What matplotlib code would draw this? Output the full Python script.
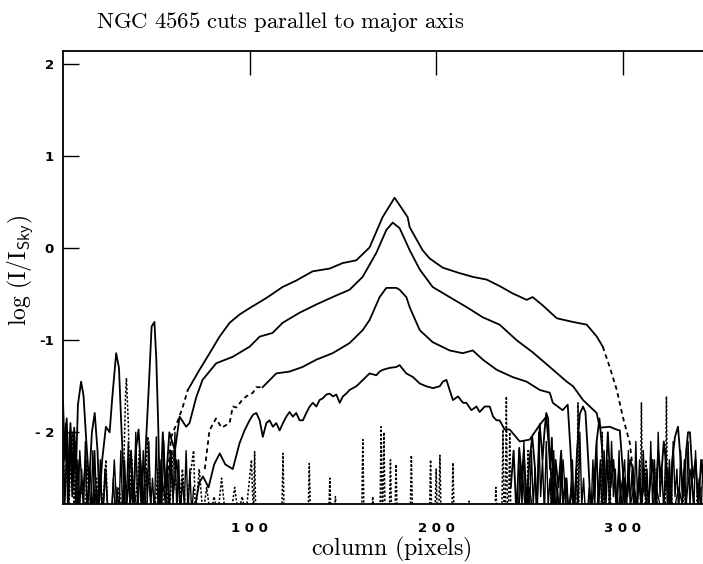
import matplotlib
matplotlib.use("Agg")
import matplotlib.pyplot as plt

plt.rcParams['mathtext.fontset'] = 'cm'

# ---- main profiles (column, log I/Isky) ----
a_dash_l_x = [56, 58, 60, 62, 64.1, 66.9]
a_dash_l_y = [-2.5, -2.05, -1.95, -1.85, -1.73, -1.54]
a_x = [66.9, 73.2, 78.6, 83.9, 89.3, 94.6, 100, 109, 117.7, 125, 133.8, 142.9, 149.9, 157.2,
       164.3, 171.3, 177.7, 180.4, 184.7, 185.8, 192.7, 196.5, 203.5, 212.6, 219.6, 227.1,
       234, 241, 248.5, 251.7, 257.1, 264.6, 273.2, 280.7, 286.1, 289.3]
a_y = [-1.54, -1.32, -1.14, -0.96, -0.81, -0.72, -0.65, -0.54, -0.42, -0.35, -0.25, -0.22,
       -0.16, -0.13, 0.01, 0.34, 0.55, 0.47, 0.34, 0.23, -0.02, -0.11, -0.21, -0.27, -0.31,
       -0.34, -0.41, -0.49, -0.56, -0.53, -0.62, -0.76, -0.80, -0.83, -0.96, -1.07]
a_dash_r_x = [289.3, 293, 296.8, 300, 303.8, 305.4, 307]
a_dash_r_y = [-1.07, -1.29, -1.54, -1.83, -2.12, -2.41, -2.9]

b_x = [55, 57, 60, 62.5, 66, 67.8, 71.4, 74.8, 82.1, 90.9, 100, 105.4, 112.3, 117.7, 126.8,
       135.8, 144.5, 153.6, 160.6, 167.9, 173.3, 176.7, 180.4, 185.8, 191.2, 198.1, 207.2,
       216.4, 225, 234, 243.2, 251.7, 260.9, 270, 273.4, 278.7, 286, 287.7, 293, 296.6,
       298.4, 300, 301.5]
b_y = [-2.6, -2.0, -2.2, -1.83, -1.94, -1.90, -1.62, -1.43, -1.25, -1.18, -1.07, -0.96, -0.92,
       -0.81, -0.70, -0.61, -0.53, -0.45, -0.31, -0.05, 0.20, 0.28, 0.22, -0.02, -0.23, -0.42,
       -0.53, -0.64, -0.75, -0.83, -1.00, -1.13, -1.29, -1.45, -1.50, -1.65, -1.79, -1.95,
       -1.94, -1.97, -1.98, -2.4, -2.9]

c_dash_x = [76, 78.5, 82, 85, 89.3, 91, 93, 96, 98.2, 101.8, 103.6, 107]
c_dash_y = [-2.4, -1.98, -1.85, -1.95, -1.90, -1.72, -1.73, -1.65, -1.61, -1.57, -1.51, -1.51]
c_x = [107, 114.3, 121.4, 128.4, 135.8, 144.5, 153.6, 160.6, 164.3, 169.7, 173.3, 178.7, 180.4,
       184, 185.8, 191.2, 198.1, 207.2, 214.2, 219.6, 225, 232.4, 241, 248.5, 255.5, 260.9,
       262.5, 267.8, 270.5, 272, 273.5]
c_y = [-1.51, -1.36, -1.34, -1.29, -1.21, -1.14, -1.03, -0.89, -0.78, -0.53, -0.43, -0.43,
       -0.45, -0.53, -0.64, -0.89, -1.02, -1.11, -1.14, -1.11, -1.21, -1.32, -1.40, -1.45,
       -1.54, -1.57, -1.68, -1.76, -1.70, -2.2, -2.9]

d_x = [70, 73, 75, 78, 81, 84, 87, 91, 94.6, 97.3, 100, 101.8, 103.6, 105.4, 107.1, 109, 110.7,
       112.5, 114.3, 116.1, 117.9, 119.7, 121.4, 123.2, 125, 126.8, 128.6, 130.4, 132.2, 133.9,
       135.8, 137.5, 139.3, 141.1, 142.9, 144.7, 146.5, 148.3, 150, 151.8, 153.6, 157.2, 160.8,
       164.3, 167.9, 169.7, 171.5, 175.1, 178.7, 180.4, 184, 187.6, 191.2, 194.7, 198.3, 201.9,
       203.6, 205.5, 207.2, 209, 211.7, 214.4, 216.2, 218.9, 221.6, 223.3, 226, 228.7, 230.5,
       232.3, 234, 236.7, 239.4, 244.8, 250.1, 255.5, 259, 261, 263]
d_y = [-2.9, -2.55, -2.48, -2.6, -2.35, -2.23, -2.35, -2.4, -2.12, -1.98, -1.87, -1.81, -1.79,
       -1.87, -2.05, -1.90, -1.87, -1.94, -1.90, -1.98, -1.90, -1.83, -1.78, -1.83, -1.79,
       -1.87, -1.87, -1.79, -1.72, -1.68, -1.72, -1.65, -1.63, -1.59, -1.58, -1.61, -1.59,
       -1.68, -1.61, -1.58, -1.54, -1.50, -1.43, -1.36, -1.38, -1.34, -1.32, -1.30, -1.29,
       -1.27, -1.36, -1.40, -1.47, -1.50, -1.52, -1.50, -1.45, -1.43, -1.54, -1.65, -1.61,
       -1.68, -1.68, -1.76, -1.72, -1.78, -1.72, -1.72, -1.83, -1.87, -1.87, -1.97, -1.97,
       -2.10, -2.08, -1.92, -1.83, -2.3, -2.9]

# ---- sky noise ----
ns_left_x = [0, 1, 2, 3, 4, 5, 6, 7, 8, 9.7, 11, 12.5, 14, 15.5, 17, 18.5, 19.5, 21, 23, 25,
             26.5, 28.5, 30, 31, 32.5, 33.5, 35, 36.5, 37.5, 39, 40.5, 42, 43, 44.5, 46, 47.5,
             49, 50, 51, 52, 53.5, 55]
ns_left_y = [-1.65, -2.3, -1.85, -2.6, -1.9, -2.5, -1.95, -2.4, -1.7, -1.45, -1.6, -2.1, -2.55,
             -2.0, -1.79, -2.2, -2.75, -2.3, -1.94, -2.0, -1.6, -1.14, -1.3, -1.8, -2.5, -2.9,
             -2.6, -2.2, -2.8, -2.2, -1.97, -2.5, -2.9, -2.1, -1.5, -0.85, -0.80, -1.2, -1.9,
             -2.8, -2.0, -2.6]
ns_left2_x = [0, 1.5, 2.5, 3.5, 5, 6.5, 8, 9, 10.5, 12, 13, 14.5, 16, 17, 18, 20, 21.5, 22.5, 24,
              26, 27.5, 29, 31.5, 34, 38, 40, 41.5, 44, 45, 48, 51, 53, 56, 57.5, 59, 61, 63]
ns_left2_y = [-2.3, -1.9, -2.8, -2.0, -2.7, -2.1, -2.9, -2.2, -2.7, -2.3, -2.9, -2.4, -2.9, -2.2,
              -2.8, -2.5, -2.9, -2.4, -2.8, -2.9, -2.3, -2.9, -2.9, -2.9, -2.6, -2.9, -2.3,
              -2.9, -2.4, -2.9, -2.9, -2.5, -2.9, -2.2, -2.7, -2.3, -2.9]
ns_left3_x = list(range(0, 71))
ns_left3_y = [-2.0, -2.8, -2.1, -2.9, -1.95, -2.7, -2.2, -2.9, -2.3, -2.8,
              -2.4, -2.9, -2.1, -2.85, -2.5, -2.9, -2.2, -2.8, -2.6, -2.9,
              -2.3, -2.9, -2.7, -2.4, -2.9, -2.8, -2.9, -2.5, -2.9, -2.6,
              -2.9, -2.2, -2.9, -2.3, -2.8, -2.1, -2.9, -2.4, -2.9, -2.0,
              -2.8, -2.3, -2.9, -2.2, -2.7, -2.9, -2.1, -2.8, -2.5, -2.9,
              -2.05, -2.9, -2.3, -2.8, -2.1, -2.9, -2.4, -2.9, -2.2, -2.8,
              -2.0, -2.9, -2.3, -2.9, -2.5, -2.8, -2.2, -2.9, -2.4, -2.9, -2.6]
ns_right_x = [240, 241.5, 243, 244.5, 246, 247, 248.5, 250, 251.5, 253, 254, 255.5, 257, 258,
              259, 260, 261, 262, 263, 264, 265.5, 267, 268, 269.5, 271, 272.5, 274, 275.5,
              277, 278.7, 280, 281.5, 283, 284.5, 286, 287.5, 289, 290.5, 292, 293.5, 295,
              296.5, 298, 299.5, 301, 302.5, 304, 305.5, 307, 308.5, 310, 311.5, 313, 314.5,
              316, 317.5, 319, 320.5, 322, 323.5, 325, 326.5, 328, 329.6, 331, 332.5, 334,
              335, 336, 337.5, 339, 340.5, 342, 343]
ns_right_y = [-2.6, -2.2, -2.9, -2.17, -2.5, -2.2, -2.8, -2.3, -2.05, -2.4, -2.9, -1.91, -2.3,
              -2.0, -1.79, -1.85, -2.4, -2.06, -2.9, -2.3, -2.6, -2.2, -2.8, -2.5, -2.9, -2.6,
              -2.9, -2.2, -1.8, -1.72, -1.78, -2.3, -2.9, -2.6, -2.1, -1.85, -2.2, -2.7, -2.0,
              -2.6, -2.3, -2.8, -2.4, -2.9, -2.5, -2.7, -2.3, -2.4, -2.9, -2.5, -2.8, -2.4,
              -2.9, -2.6, -2.3, -2.8, -2.2, -2.5, -2.1, -2.4, -2.8, -2.3, -2.05, -1.94, -2.3,
              -2.7, -2.2, -2.0, -2.0, -2.5, -2.3, -2.8, -2.3, -2.5]
ns_right2_x = [244, 246, 248, 250, 252, 256, 262, 264, 266, 268, 270, 286, 288, 291, 297, 300,
               303, 306, 309, 312, 315, 318, 321, 324, 327, 330, 333, 336, 339, 342]
ns_right2_y = [-2.9, -2.4, -2.9, -2.6, -2.9, -2.9, -2.9, -2.5, -2.9, -2.3, -2.9, -2.9, -2.3,
               -2.9, -2.9, -2.5, -2.9, -2.6, -2.9, -2.5, -2.9, -2.6, -2.9, -2.4, -2.9, -2.6,
               -2.9, -2.4, -2.9, -2.6]
ns_right3_x = list(range(244, 344))
ns_right3_y = [-2.9, -2.3, -2.8, -2.1, -2.9, -2.5, -2.9, -2.2, -2.8, -2.4,
               -2.9, -2.0, -2.7, -2.3, -2.9, -2.1, -2.8, -2.5, -2.9, -2.2,
               -2.9, -2.6, -2.9, -2.3, -2.8, -2.9, -2.5, -2.9, -2.7, -2.3,
               -2.9, -2.4, -2.9, -2.0, -2.8, -2.5, -2.9, -2.9, -2.6, -2.9,
               -2.3, -2.8, -2.1, -2.9, -2.4, -2.9, -2.2, -2.8, -2.3, -2.9,
               -2.1, -2.7, -2.4, -2.9, -2.2, -2.9, -2.5, -2.3, -2.9, -2.2,
               -2.8, -2.4, -2.9, -2.1, -2.8, -2.3, -2.9, -2.2, -2.7, -2.4,
               -2.9, -2.1, -2.8, -2.3, -2.9, -2.0, -2.7, -2.4, -2.9, -2.2,
               -2.8, -2.3, -2.9, -2.1, -2.7, -2.4, -2.9, -2.2, -2.8, -2.3,
               -2.9, -2.1, -2.8, -2.4, -2.9, -2.2, -2.7, -2.5, -2.9, -2.3]
nd_left_x = [0, 1, 2, 3, 4, 5, 6, 7, 8, 10, 12, 13, 14, 16, 18, 20, 22, 23, 24, 26, 28, 30, 32,
             33.5, 34, 35, 36, 37, 38, 40, 41, 42, 44, 45.5, 47, 49, 51, 53, 55, 57, 59, 62, 64,
             66, 68, 70, 71, 73, 75, 77, 79, 81, 83, 85, 87, 90, 92, 94, 96, 98, 100, 101, 102]
nd_left_y = [-2.0, -2.7, -2.2, -2.9, -2.4, -2.0, -2.8, -2.3, -2.9, -2.6, -2.9, -2.3, -2.8, -2.9,
             -2.5, -2.9, -2.6, -2.3, -2.9, -2.8, -2.9, -2.6, -2.9, -1.6, -1.41, -1.9, -2.7,
             -2.3, -2.9, -2.5, -2.2, -2.9, -2.6, -2.05, -2.8, -2.9, -2.4, -2.9, -2.5, -2.9,
             -2.2, -2.9, -2.4, -2.9, -2.5, -2.2, -2.9, -2.4, -2.9, -2.6, -2.9, -2.7, -2.9,
             -2.5, -2.9, -2.9, -2.6, -2.9, -2.7, -2.9, -2.5, -2.3, -2.9]
spike_x = [102.7, 117.9, 132, 143, 146, 160.7, 166, 170.5, 172, 175.5, 178.5, 186.7, 197, 200,
           202, 209, 217.7, 232, 235.8, 237.6, 239.4, 249.2, 262, 276, 289, 293, 310, 312.5,
           318, 323.4, 326, 333, 340]
spike_y = [-2.21, -2.23, -2.34, -2.5, -2.7, -2.08, -2.7, -1.94, -2.0, -2.3, -2.35, -2.25, -2.3,
           -2.4, -2.25, -2.33, -2.75, -2.6, -1.97, -1.61, -2.0, -2.2, -2.4, -1.68, -2.0, -2.3,
           -1.68, -2.3, -2.4, -1.61, -2.5, -2.4, -2.6]
sky_floor = -2.9

xticks = [100, 200, 300]
xticklabels = ['1 0 0', '2 0 0', '3 0 0']
yticks = [2, 1, 0, -1, -2]
yticklabels = ['2', '1', '0', '-1', '- 2']

# dotted spikes: each rises from the floor to its peak and back
nd_x = list(nd_left_x)
nd_y = list(nd_left_y)
for sx, sy in zip(spike_x, spike_y):
    nd_x += [sx - 0.6, sx, sx + 0.6]
    nd_y += [sky_floor, sy, sky_floor]

fig = plt.figure(figsize=(7.03, 5.64), dpi=100)
ax = fig.add_axes([0.0896, 0.1064, 0.9104, 0.803])
ax.set_xlim(0, 343)
ax.set_ylim(-2.78, 2.145)

k = 'black'
lw = 1.3
ax.plot(ns_left3_x, ns_left3_y, color=k, lw=1.0)
ax.plot(ns_right3_x, ns_right3_y, color=k, lw=1.0)
ax.plot(ns_left2_x, ns_left2_y, color=k, lw=1.0)
ax.plot(ns_right2_x, ns_right2_y, color=k, lw=1.0)
ax.plot(nd_x, nd_y, color=k, lw=1.1, linestyle=(0, (1.5, 1.2)))
ax.plot(ns_left_x, ns_left_y, color=k, lw=lw)
ax.plot(ns_right_x, ns_right_y, color=k, lw=lw)
ax.plot(a_dash_l_x, a_dash_l_y, color=k, lw=lw, linestyle=(0, (2.5, 2)))
ax.plot(a_x, a_y, color=k, lw=lw)
ax.plot(a_dash_r_x, a_dash_r_y, color=k, lw=lw, linestyle=(0, (2.5, 2)))
ax.plot(b_x, b_y, color=k, lw=lw)
ax.plot(c_dash_x, c_dash_y, color=k, lw=lw, linestyle=(0, (2.5, 2)))
ax.plot(c_x, c_y, color=k, lw=lw)
ax.plot(d_x, d_y, color=k, lw=lw)

for s in ['left', 'top', 'bottom']:
    ax.spines[s].set_linewidth(1.3)
ax.spines['right'].set_visible(False)

ax.set_yticks(yticks)
ax.set_yticklabels(yticklabels, fontweight='bold', fontsize=9.5)
ax.tick_params(axis='y', direction='in', length=11.5, width=1.0, pad=6.5, left=True)

ax.set_xticks(xticks)
ax.set_xticklabels(xticklabels, fontweight='bold', fontsize=9.5)
ax.tick_params(axis='x', direction='in', length=17, width=1.0, pad=13,
               top=True, bottom=False, labeltop=False, labelbottom=True)

fig.text(391 / 703, 1 - 555 / 564, r'$\mathrm{column\ (pixels)}$', fontsize=17.3,
         ha='center', va='baseline')
fig.text(20 / 703, 1 - 270 / 564, r'$\mathrm{log\ (I/I}_{\mathsf{Sky}}\mathrm{)}$',
         fontsize=17, ha='center', va='center', rotation=90)
fig.text(96 / 703, 1 - 28 / 564, r'$\mathrm{NGC\ 4565\ cuts\ parallel\ to\ major\ axis}$',
         fontsize=16.4, ha='left', va='baseline')

fig.savefig('out.png', dpi=100)
